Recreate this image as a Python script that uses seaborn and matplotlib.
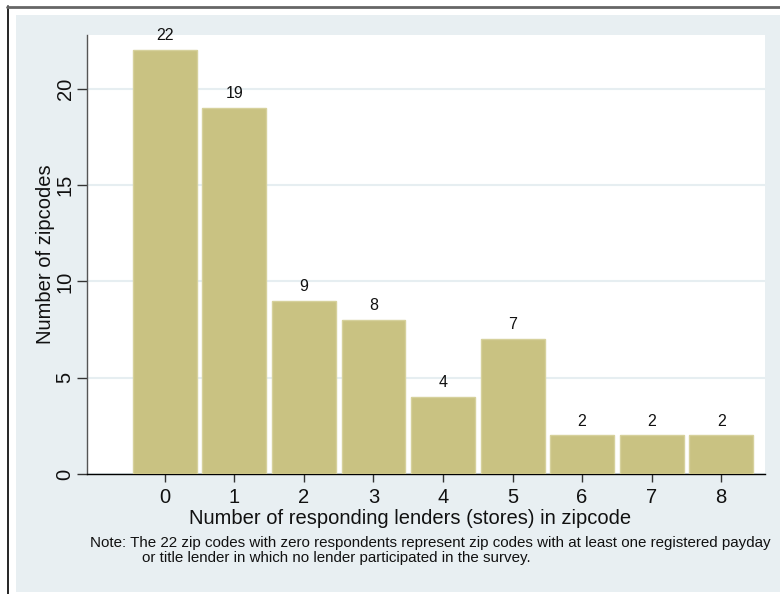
import matplotlib
matplotlib.use("Agg")
import matplotlib.pyplot as plt
import seaborn as sns
import pandas as pd
from matplotlib.patches import Rectangle
from matplotlib.lines import Line2D

# Distribution of zip codes by number of responding lenders
lenders = [0, 1, 2, 3, 4, 5, 6, 7, 8]
zipcodes = [22, 19, 9, 8, 4, 7, 2, 2, 2]
y_ticks = [0, 5, 10, 15, 20]

sns.set_theme(style="white")
plt.rcParams["font.family"] = ["Liberation Sans", "DejaVu Sans"]

BAR = "#c9c282"
BAR_EDGE = "#d6d19c"
PANEL = "#e8eff2"
GRID = "#e6eef1"

fig = plt.figure(figsize=(7.8, 5.94), dpi=100)
fig.patch.set_facecolor("white")

# light outer panel and frame lines
fig.add_artist(Rectangle((16 / 780, 1 - 592 / 594), 1, (592 - 15) / 594,
                         transform=fig.transFigure, facecolor=PANEL,
                         edgecolor="none", zorder=-10))
fig.add_artist(Line2D([7.5 / 780, 7.5 / 780], [0, 1 - 6 / 594],
                      transform=fig.transFigure, color="black", lw=1.2))
fig.add_artist(Line2D([7 / 780, 1], [1 - 6.5 / 594, 1 - 6.5 / 594],
                      transform=fig.transFigure, color="#666666", lw=2.0))

ax = fig.add_axes([87 / 780, 1 - 474 / 594, (765 - 87) / 780, (474 - 35) / 594])
ax.set_facecolor("white")

df = pd.DataFrame({"lenders": lenders, "zipcodes": zipcodes})
sns.barplot(data=df, x="lenders", y="zipcodes", color=BAR, saturation=1,
            width=0.92, edgecolor=BAR_EDGE, linewidth=1.0, ax=ax, zorder=3)
ax.bar_label(ax.containers[0], labels=[str(v) for v in zipcodes],
             padding=5, fontsize=11.5, color="#111111")

ax.set_xlim(-1.12, 8.63)
ax.set_ylim(0, 22.8)
ax.set_yticks(y_ticks)
ax.set_yticklabels([str(t) for t in y_ticks], rotation=90, va="center",
                   fontsize=14.5)
ax.set_xticks(lenders)
ax.set_xticklabels([str(v) for v in lenders], fontsize=14.5)
ax.yaxis.grid(True, color=GRID, lw=1.5, zorder=0)
ax.set_axisbelow(True)

for side in ("top", "right"):
    ax.spines[side].set_visible(False)
ax.spines["left"].set_color("#555555")
ax.spines["left"].set_linewidth(1.0)
ax.spines["bottom"].set_color("black")
ax.spines["bottom"].set_linewidth(1.0)
ax.tick_params(axis="y", which="major", direction="out", length=7,
               width=1.0, color="#333333", pad=2, labelcolor="#111111",
               left=True)
ax.tick_params(axis="x", which="major", direction="out", length=6,
               width=1.0, color="#333333", pad=4, labelcolor="#111111",
               bottom=True)

ax.set_xlabel("Number of responding lenders (stores) in zipcode",
              fontsize=14.5, color="#111111")
ax.xaxis.set_label_coords((410 - 87) / 678, (474 - 518) / 439)
ax.xaxis.label.set_va("center")
ax.set_ylabel("Number of zipcodes", fontsize=14.5, color="#111111")
ax.yaxis.set_label_coords((46 - 87) / 678, (474 - 254) / 439)
ax.yaxis.label.set_va("center")

fig.text(90 / 780, 1 - 543 / 594,
         "Note: The 22 zip codes with zero respondents represent zip codes "
         "with at least one registered payday",
         fontsize=10.9, color="#111111", va="center", ha="left")
fig.text(142 / 780, 1 - 558 / 594,
         "or title lender in which no lender participated in the survey.",
         fontsize=10.9, color="#111111", va="center", ha="left")

fig.savefig("out.png", dpi=100, facecolor=fig.get_facecolor())
